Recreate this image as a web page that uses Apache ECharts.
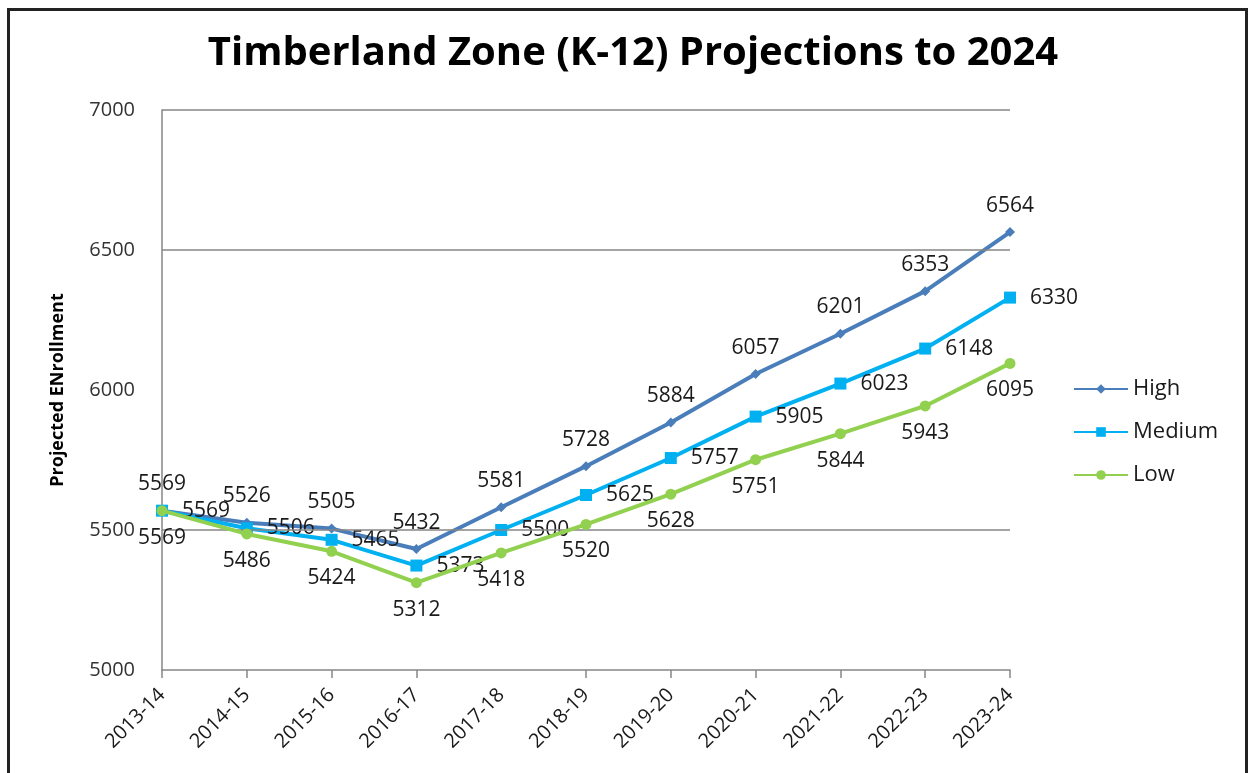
<!DOCTYPE html>
<html>
<head>
<meta charset="utf-8">
<script src="https://cdn.jsdelivr.net/npm/echarts@6/dist/echarts.min.js"></script>
<style>
html,body{margin:0;padding:0;background:#fff;width:1253px;height:773px;overflow:hidden;}
#frame{position:absolute;left:7px;top:8px;width:1235px;height:800px;border:3px solid #222;box-sizing:content-box;}
#chart{position:absolute;left:0;top:0;width:1253px;height:773px;}
</style>
</head>
<body>
<div id="frame"></div>
<div id="chart"></div>
<script>
const categories = ['2013-14','2014-15','2015-16','2016-17','2017-18','2018-19','2019-20','2020-21','2021-22','2022-23','2023-24'];
const highValues = [5569,5526,5505,5432,5581,5728,5884,6057,6201,6353,6564];
const mediumValues = [5569,5506,5465,5373,5500,5625,5757,5905,6023,6148,6330];
const lowValues = [5569,5486,5424,5312,5418,5520,5628,5751,5844,5943,6095];
const gridValues = [7000,6500,5500];

const chart = echarts.init(document.getElementById('chart'));
const labelFont = {fontFamily:'Open Sans', fontSize:21, color:'#1a1a1a'};
chart.setOption({
  animation:false,
  backgroundColor:'transparent',
  title:{text:'Timberland Zone (K-12) Projections to 2024',left:628,top:29,textAlign:'center',
    textStyle:{fontFamily:'Open Sans',fontWeight:'bold',fontSize:40,color:'#000'}},
  grid:{left:162,top:110,width:848,height:560},
  legend:{orient:'vertical',left:1068,top:373,itemGap:21,itemWidth:54,itemHeight:12,
    textStyle:{fontFamily:'Open Sans',fontSize:22,color:'#1a1a1a'},
    data:['High','Medium','Low']},
  xAxis:{type:'category',data:categories,boundaryGap:false,
    axisLine:{lineStyle:{color:'#868686',width:1.5}},
    axisTick:{show:true,length:8,interval:function(i){return i!==4;},lineStyle:{color:'#868686',width:1.5}},
    axisLabel:{rotate:45,fontFamily:'Open Sans',fontSize:20,color:'#1a1a1a',margin:22}},
  yAxis:{type:'value',min:5000,max:7000,interval:500,
    name:'Projected ENrollment',nameLocation:'middle',nameGap:95,nameRotate:90,
    nameTextStyle:{fontFamily:'Open Sans',fontWeight:'bold',fontSize:18,color:'#000'},
    axisLine:{show:true,lineStyle:{color:'#868686',width:1.5}},
    axisTick:{show:false},
    splitLine:{show:false},
    axisLabel:{fontFamily:'Open Sans',fontSize:20,color:'#333',margin:27,formatter:function(v){return String(v);}}},
  series:[
    {name:'High',type:'line',data:highValues,symbol:'diamond',symbolSize:10,
      lineStyle:{color:'#4a7ebb',width:4},itemStyle:{color:'#4a7ebb'},
      label:{show:true,position:'top',distance:11,...labelFont},
      markLine:{silent:true,symbol:'none',label:{show:false},animation:false,
        lineStyle:{color:'#868686',width:1.5,type:'solid'},
        data:gridValues.map(v=>({yAxis:v}))},
      z:3},
    {name:'Medium',type:'line',data:mediumValues,symbol:'rect',symbolSize:12,
      lineStyle:{color:'#00b0f0',width:4},itemStyle:{color:'#00b0f0'},
      label:{show:true,position:'right',distance:14,...labelFont},z:4},
    {name:'Low',type:'line',data:lowValues,symbol:'circle',symbolSize:11,
      lineStyle:{color:'#92d050',width:4},itemStyle:{color:'#92d050'},
      label:{show:true,position:'bottom',distance:11,...labelFont},z:5}
  ]
});
</script>
</body>
</html>
